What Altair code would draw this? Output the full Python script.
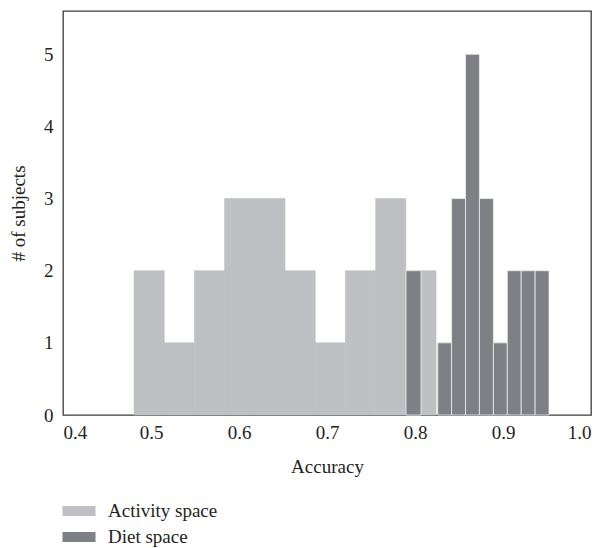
import altair as alt
import pandas as pd

# Activity space histogram (wide bins)
activity_start = [0.4807, 0.5150, 0.5493, 0.5836, 0.6180, 0.6523, 0.6866, 0.7209, 0.7553, 0.7896]
activity_end = [0.5150, 0.5493, 0.5836, 0.6180, 0.6523, 0.6866, 0.7209, 0.7553, 0.7896, 0.8239]
activity_count = [2, 1, 2, 3, 3, 2, 1, 2, 3, 2]

# Diet space histogram (narrow bins)
diet_start = [0.7898, 0.8258, 0.8416, 0.8574, 0.8732, 0.8891, 0.9049, 0.9207, 0.9365]
diet_end = [0.8068, 0.8416, 0.8574, 0.8732, 0.8891, 0.9049, 0.9207, 0.9365, 0.9523]
diet_count = [2, 1, 3, 5, 3, 1, 2, 2, 2]

series_names = ["Activity space", "Diet space"]
series_colors = ["#BFC0C4", "#7F8085"]

rows = []
for s, e, c in zip(activity_start, activity_end, activity_count):
    rows.append({"series": series_names[0], "x0": s, "x1": e, "count": c, "order": 0})
for s, e, c in zip(diet_start, diet_end, diet_count):
    rows.append({"series": series_names[1], "x0": s, "x1": e, "count": c, "order": 1})
df = pd.DataFrame(rows)

FONT = "Times New Roman"

color = alt.Color(
    "series:N",
    scale=alt.Scale(domain=series_names, range=series_colors),
    legend=alt.Legend(
        title=None,
        orient="none",
        legendX=6,
        legendY=490,
        direction="vertical",
        symbolType="M-1.65,-0.5H1.65V0.5H-1.65Z",
        symbolSize=400,
        symbolStrokeWidth=0,
        symbolOpacity=1,
        labelFont=FONT,
        labelFontSize=19,
        labelColor="#231F20",
        labelOffset=19,
        rowPadding=6,
    ),
)

x = alt.X(
    "x0:Q",
    scale=alt.Scale(domain=[0.4, 1.0], nice=False, zero=False),
    axis=alt.Axis(
        title="Accuracy",
        values=[0.4, 0.5, 0.6, 0.7, 0.8, 0.9, 1.0],
        format=".1f",
        ticks=False,
        domain=False,
        grid=False,
        labelPadding=8,
        titlePadding=15,
    ),
)
y = alt.Y(
    "count:Q",
    scale=alt.Scale(domain=[0, 5.6], nice=False),
    axis=alt.Axis(
        title="# of subjects",
        values=[0, 1, 2, 3, 4, 5],
        ticks=False,
        domain=False,
        grid=False,
        labelPadding=10,
        titlePadding=15,
    ),
)

light = alt.Chart(df).transform_filter(alt.datum.order == 0).mark_bar(
    opacity=1, stroke="#BFC0C4", strokeWidth=0.6
).encode(x=x, x2="x1:Q", y=y, y2=alt.datum(0), color=color)

dark = alt.Chart(df).transform_filter(alt.datum.order == 1).mark_bar(
    opacity=1, stroke="#EDEDED", strokeWidth=0.8
).encode(x=x, x2="x1:Q", y=y, y2=alt.datum(0), color=color)

chart = (
    alt.layer(light, dark)
    .properties(
        width=528,
        height=404,
        autosize=alt.AutoSizeParams(type="none"),
        padding={"left": 55, "top": 3, "right": 5, "bottom": 133},
        background="white",
    )
    .configure_view(stroke="#3A3A3A", strokeWidth=1.3)
    .configure_axis(
        labelFont=FONT,
        labelFontSize=19,
        labelColor="#231F20",
        titleFont=FONT,
        titleFontSize=19,
        titleFontWeight="normal",
        titleColor="#231F20",
    )
)

chart.save("out.html", embed_options={"renderer": "svg", "actions": False})
